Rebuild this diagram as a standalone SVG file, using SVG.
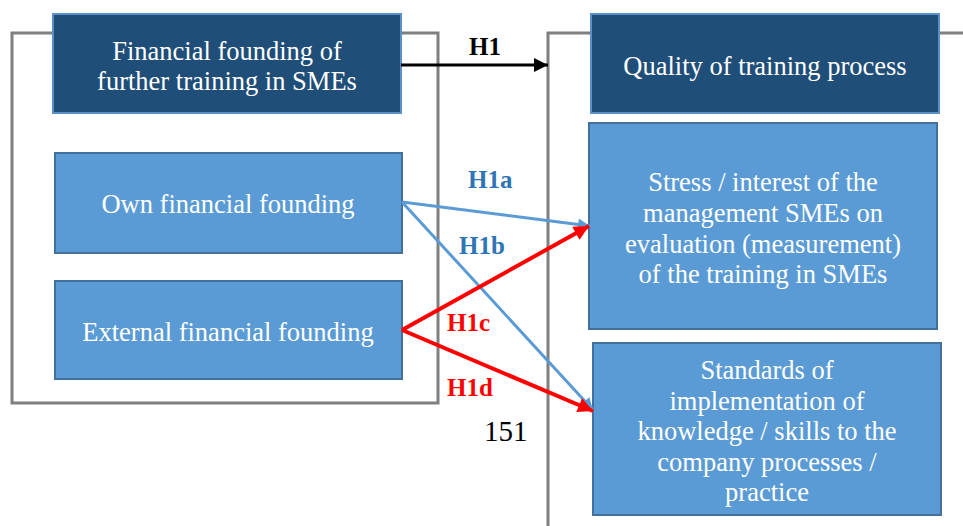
<svg xmlns="http://www.w3.org/2000/svg" width="963" height="526" viewBox="0 0 963 526">
<defs>
<style>
.frame{fill:none;stroke:#7f7f7f;stroke-width:3}
.dark{fill:#1f4e79;stroke:#5b8fc7;stroke-width:2}
.light{fill:#5b9bd5;stroke:#41719c;stroke-width:2}
.t{font-family:"Liberation Serif","Times New Roman",serif;font-size:26.5px;fill:#ffffff;text-anchor:middle}
.lbl{font-family:"Liberation Serif","Times New Roman",serif;font-size:25px;font-weight:bold}
.blue{fill:#2e75b6}
.red{fill:#ff0000}
</style>
<marker id="ab" viewBox="0 0 10 10" refX="10" refY="5" markerWidth="16" markerHeight="12" markerUnits="userSpaceOnUse" orient="auto"><path d="M0,0 L10,5 L0,10 z" fill="#5b9bd5"/></marker>
<marker id="ar" viewBox="0 0 10 10" refX="10" refY="5" markerWidth="20" markerHeight="15" markerUnits="userSpaceOnUse" orient="auto"><path d="M0,0 L10,5 L0,10 z" fill="#ff0000"/></marker>
<marker id="ak" viewBox="0 0 10 10" refX="10" refY="5" markerWidth="14" markerHeight="14" markerUnits="userSpaceOnUse" orient="auto"><path d="M0,0 L10,5 L0,10 z" fill="#000000"/></marker>
</defs>
<rect width="963" height="526" fill="#ffffff"/>
<g id="frames">
<rect class="frame" x="12" y="33" width="426" height="370"/>
<path class="frame" d="M548,526 L548,33 L963,33"/>
</g>
<g id="n-financial">
<rect class="dark" x="53" y="14" width="348" height="99"/>
<text class="t" x="227" y="60">Financial founding of</text>
<text class="t" x="227" y="90">further training in SMEs</text>
</g>
<g id="n-quality">
<rect class="dark" x="591" y="14" width="348" height="99"/>
<text class="t" x="765" y="75">Quality of training process</text>
</g>
<g id="n-own">
<rect class="light" x="55" y="153" width="347" height="100"/>
<text class="t" x="228" y="213">Own financial founding</text>
</g>
<g id="n-external">
<rect class="light" x="55" y="281" width="347" height="98"/>
<text class="t" x="228" y="341">External financial founding</text>
</g>
<g id="n-stress">
<rect class="light" x="589" y="123" width="348" height="206"/>
<text class="t" x="763" y="191">Stress / interest of the</text>
<text class="t" x="763" y="222">management SMEs on</text>
<text class="t" x="763" y="253">evaluation (measurement)</text>
<text class="t" x="763" y="283">of the training in SMEs</text>
</g>
<g id="n-standards">
<rect class="light" x="593" y="343" width="348" height="172"/>
<text class="t" x="767" y="379">Standards of</text>
<text class="t" x="767" y="410">implementation of</text>
<text class="t" x="767" y="440">knowledge / skills to the</text>
<text class="t" x="767" y="471">company processes /</text>
<text class="t" x="767" y="501">practice</text>
</g>
<g id="connectors">
<line x1="401" y1="65" x2="548" y2="65" stroke="#000" stroke-width="3" marker-end="url(#ak)"/>
<line x1="402" y1="202" x2="590" y2="226" stroke="#5b9bd5" stroke-width="3" marker-end="url(#ab)"/>
<line x1="402" y1="202" x2="593" y2="410" stroke="#5b9bd5" stroke-width="3" marker-end="url(#ab)"/>
<line x1="402" y1="330" x2="589" y2="226" stroke="#ff0000" stroke-width="4" marker-end="url(#ar)"/>
<line x1="402" y1="330" x2="593" y2="411" stroke="#ff0000" stroke-width="4" marker-end="url(#ar)"/>
</g>
<g id="labels">
<text class="lbl" x="469" y="55" fill="#000">H1</text>
<text class="lbl blue" x="468" y="188">H1a</text>
<text class="lbl blue" x="459" y="254">H1b</text>
<text class="lbl red" x="447" y="331">H1c</text>
<text class="lbl red" x="447" y="396">H1d</text>
<text x="484" y="441" font-family="Liberation Serif, Times New Roman, serif" font-size="29" fill="#000">151</text>
</g>
</svg>
